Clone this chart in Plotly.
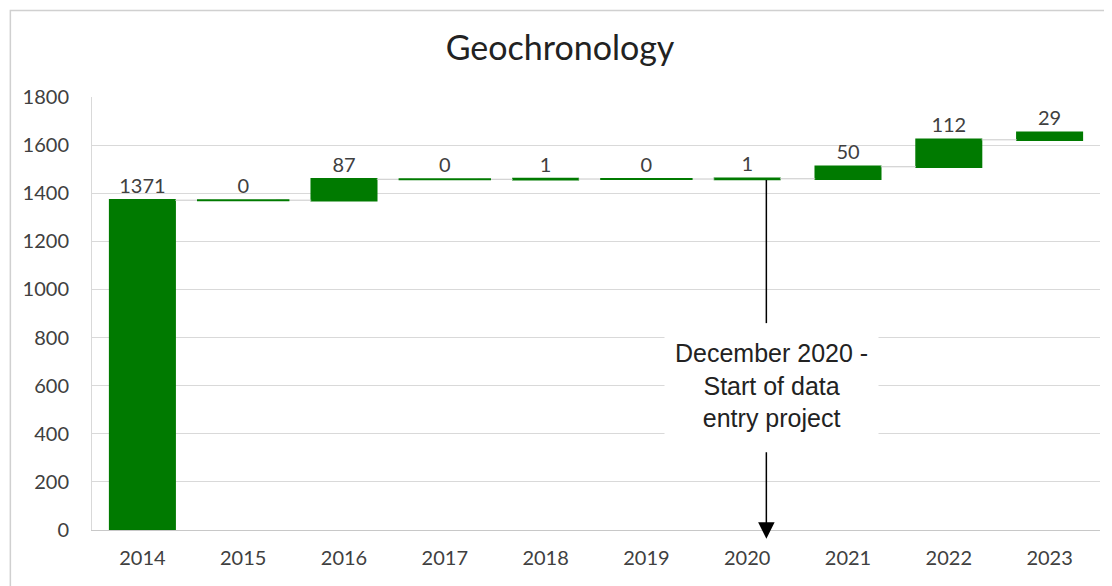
import plotly.graph_objects as go

years = ["2014", "2015", "2016", "2017", "2018", "2019", "2020", "2021", "2022", "2023"]
added = [1371, 0, 87, 0, 1, 0, 1, 50, 112, 29]
y_ticks = list(range(0, 1801, 200))

green = "#007a00"

# running totals, used to mark the years with nothing added
running = []
total = 0
for v in added:
    total += v
    running.append(total)
flat_x = [yr for yr, v in zip(years, added) if v == 0]
flat_y = [t for t, v in zip(running, added) if v == 0]

fig = go.Figure(go.Waterfall(
    x=years,
    y=added,
    measure=["relative"] * len(added),
    text=[str(v) for v in added],
    textposition="outside",
    textfont=dict(family="Lato", size=20, color="#404040"),
    increasing=dict(marker=dict(color=green, line=dict(color=green, width=1.5))),
    decreasing=dict(marker=dict(color=green, line=dict(color=green, width=1.5))),
    connector=dict(line=dict(color="#c8c8c8", width=1)),
    width=0.65,
    cliponaxis=False,
    showlegend=False,
))

# zero-change years still show as a thin flat bar
fig.add_trace(go.Scatter(
    x=flat_x, y=flat_y, mode="markers", hoverinfo="skip", showlegend=False,
    marker=dict(symbol="line-ew", size=66, line=dict(color=green, width=2)),
))

# pointer from the 2020 bar down to the axis
px_x = 6.19
fig.add_shape(type="line", x0=px_x, x1=px_x, y0=860, y1=1455, xref="x", yref="y",
              line=dict(color="black", width=1.5))
fig.add_annotation(x=px_x, y=-0.02, xref="x", yref="paper", text=" ", showarrow=True,
                   ax=0, ay=-100, arrowhead=2, arrowsize=2.2, arrowwidth=1.5,
                   arrowcolor="black")
fig.add_annotation(x=6.24, y=600, xref="x", yref="y",
                   text="December 2020 -<br>Start of data<br>entry project",
                   showarrow=False, bgcolor="white", borderpad=10,
                   font=dict(family="Liberation Sans", size=25, color="#222222"))

# outer chart frame
fig.add_shape(type="rect", xref="paper", yref="paper", x0=-0.081, x1=1.02,
              y0=-0.25, y1=1.2, line=dict(color="#d0d0d0", width=1.5), layer="below")

fig.update_layout(
    title=dict(text="Geochronology", x=0.5, xanchor="center", y=0.93, yanchor="middle",
               font=dict(family="Lato", size=34, color="#222222")),
    width=1104, height=578,
    margin=dict(l=84, r=12, t=89, b=56),
    plot_bgcolor="white", paper_bgcolor="white",
    font=dict(family="Lato", size=20, color="#404040"),
    xaxis=dict(type="category", showgrid=False, showline=True, linecolor="#c8c8c8",
               ticks="", ticklabelstandoff=10),
    yaxis=dict(range=[0, 1800], tickvals=y_ticks, showgrid=True, gridcolor="#d9d9d9",
               zeroline=False, showline=True, linecolor="#d9d9d9", ticks="",
               ticklabelstandoff=18),
)

fig.write_html("out.html")
